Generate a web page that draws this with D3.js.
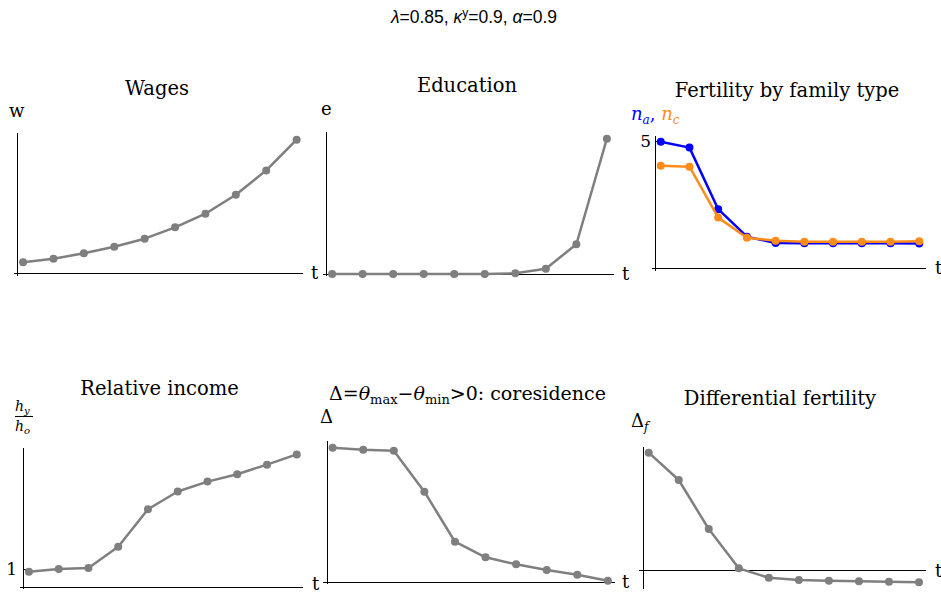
<!DOCTYPE html>
<html>
<head>
<meta charset="utf-8">
<script src="https://cdn.jsdelivr.net/npm/d3@7"></script>
<style>
  html, body { margin: 0; padding: 0; background: #fff; }
  svg { display: block; }
  .header { font-family: "Liberation Sans", Arial, sans-serif; font-size: 17.5px; fill: #000; }
  .title { font-family: "DejaVu Serif", serif; font-size: 19.5px; fill: #000; }
  .label { font-family: "DejaVu Serif", serif; font-size: 18px; fill: #000; }
  .tick text { font-family: "DejaVu Serif", serif; font-size: 17px; fill: #000; }
  .axis path, .axis line { stroke: #000; stroke-width: 1; shape-rendering: crispEdges; }
  .series { fill: none; stroke-width: 2.5; stroke-linejoin: round; }
</style>
</head>
<body>
<svg id="chart" width="941" height="594"></svg>
<script>
// Model periods t on every horizontal axis
const periods = [1, 2, 3, 4, 5, 6, 7, 8, 9, 10];

// Simulated paths
const wages = [1.00, 1.33, 1.82, 2.42, 3.15, 4.18, 5.42, 7.15, 9.36, 12.15];
const education = [0, 0, 0, 0, 0, 0, 0.005, 0.039, 0.22, 1.0];
const fertilityA = [4.97, 4.74, 2.32, 1.24, 0.99, 0.98, 0.98, 0.98, 0.98, 0.97];
const fertilityC = [4.03, 3.99, 1.99, 1.20, 1.08, 1.04, 1.04, 1.04, 1.04, 1.06];
const relativeIncome = [0.992, 1.0, 1.003, 1.063, 1.169, 1.219, 1.247, 1.268, 1.295, 1.324];
const coresidenceGap = [0.950, 0.936, 0.929, 0.639, 0.285, 0.175, 0.125, 0.085, 0.052, 0.009];
const differentialFertility = [1.0, 0.767, 0.349, 0.014, -0.066, -0.085, -0.091, -0.096, -0.100, -0.105];

// Labelled y ticks
const fertilityTicks = [5];
const incomeTicks = [1];

const GRAY = "#7f7f7f";
const BLUE = "#0000ff";
const ORANGE = "#ff8c1a";

const svg = d3.select("#chart");

// Parameter line
const header = svg.append("text").attr("class", "header")
  .attr("x", 474).attr("y", 23).attr("text-anchor", "middle");
header.append("tspan").attr("font-style", "italic").text("λ");
header.append("tspan").text("=0.85, ");
header.append("tspan").attr("font-style", "italic").text("κ");
header.append("tspan").attr("font-size", 12).attr("dy", -6).text("y");
header.append("tspan").attr("dy", 6).text("=0.9, ");
header.append("tspan").attr("font-style", "italic").text("α");
header.append("tspan").text("=0.9");

const panels = [
  { title: "Wages", titleX: 157, titleY: 95,
    series: [{ values: wages, color: GRAY }],
    left: 17, right: 302.7, top: 132, bottom: 275, yDomain: [-0.15, 12.85], cross: 0, ticks: [],
    tX: 311, tY: 279 },
  { title: "Education", titleX: 467, titleY: 92,
    series: [{ values: education, color: GRAY }],
    left: 326, right: 613, top: 131, bottom: 275.5, yDomain: [-0.011, 1.057], cross: 0, ticks: [],
    tX: 622, tY: 280 },
  { title: "Fertility by family type", titleX: 787, titleY: 97,
    series: [{ values: fertilityA, color: BLUE }, { values: fertilityC, color: ORANGE }],
    left: 655, right: 925, top: 135, bottom: 270, yDomain: [-0.067, 5.235], cross: 0, ticks: fertilityTicks, tickPad: 4,
    tX: 935, tY: 274 },
  { title: "Relative income", titleX: 159.5, titleY: 395,
    series: [{ values: relativeIncome, color: GRAY }],
    left: 23, right: 302.7, top: 447.3, bottom: 588, yDomain: [0.9463, 1.344], cross: 0.95, ticks: incomeTicks, tickPad: 6,
    tX: 312, tY: 590 },
  { title: null, titleX: 467.5, titleY: 400,
    series: [{ values: coresidenceGap, color: GRAY }],
    left: 326.5, right: 614, top: 440.7, bottom: 583.5, yDomain: [-0.0106, 1.0], cross: 0, ticks: [],
    tX: 622, tY: 588 },
  { title: "Differential fertility", titleX: 780, titleY: 405,
    series: [{ values: differentialFertility, color: GRAY }],
    left: 642.7, right: 925, top: 446, bottom: 588, yDomain: [-0.1535, 1.057], cross: 0, ticks: [],
    tX: 935, tY: 577 }
];

panels.forEach((p, i) => {
  const g = svg.append("g").attr("class", "panel panel-" + i);
  const x = d3.scaleLinear().domain([0.8, 10.2]).range([p.left, p.right]);
  const y = d3.scaleLinear().domain(p.yDomain).range([p.bottom, p.top]);
  const yc = y(p.cross);

  // horizontal axis, crossing slightly left of the vertical axis
  const xAxisScale = d3.scaleLinear().domain([x.invert(p.left - 4), 10.2]).range([p.left - 4, p.right]);
  g.append("g").attr("class", "axis")
    .attr("transform", `translate(0,${yc})`)
    .call(d3.axisBottom(xAxisScale).tickValues([]).tickSizeOuter(0));

  // vertical axis with inward ticks
  g.append("g").attr("class", "axis")
    .attr("transform", `translate(${p.left},0)`)
    .call(d3.axisLeft(y).tickValues(p.ticks).tickSizeInner(-3).tickSizeOuter(0)
      .tickPadding(p.tickPad || 4).tickFormat(d3.format("d")));

  // t label at the end of the horizontal axis
  g.append("text").attr("class", "label").attr("x", p.tX).attr("y", p.tY).text("t");

  if (p.title) {
    g.append("text").attr("class", "title").attr("x", p.titleX).attr("y", p.titleY)
      .attr("text-anchor", "middle").text(p.title);
  }

  const line = d3.line().x((d, k) => x(periods[k])).y(d => y(d));
  p.series.forEach(s => {
    g.append("path").attr("class", "series").attr("stroke", s.color).attr("d", line(s.values));
    g.selectAll(null).data(s.values).enter().append("circle")
      .attr("cx", (d, k) => x(periods[k])).attr("cy", d => y(d)).attr("r", 4)
      .attr("fill", s.color);
  });
});

// Axis variable labels
svg.append("text").attr("class", "label").attr("x", 9).attr("y", 117).text("w");
svg.append("text").attr("class", "label").attr("x", 321).attr("y", 115).text("e");

const nl = svg.append("text").attr("class", "label").attr("x", 631).attr("y", 120);
nl.append("tspan").attr("fill", BLUE).attr("font-style", "italic").text("n");
nl.append("tspan").attr("fill", BLUE).attr("font-style", "italic").attr("font-size", 12).attr("dy", 4).text("a");
nl.append("tspan").attr("fill", BLUE).attr("dy", -4).text(", ");
nl.append("tspan").attr("fill", ORANGE).attr("font-style", "italic").text("n");
nl.append("tspan").attr("fill", ORANGE).attr("font-style", "italic").attr("font-size", 12).attr("dy", 4).text("c");

// h_y / h_o fraction
const frac = svg.append("g").attr("class", "label").style("font-style", "italic").style("font-size", "14px");
const hy = frac.append("text").attr("x", 15).attr("y", 411);
hy.append("tspan").text("h");
hy.append("tspan").attr("font-size", 10).attr("dy", 3).text("y");
frac.append("line").attr("x1", 15).attr("x2", 33).attr("y1", 416.5).attr("y2", 416.5)
  .attr("stroke", "#000").attr("stroke-width", 1);
const ho = frac.append("text").attr("x", 15).attr("y", 431);
ho.append("tspan").text("h");
ho.append("tspan").attr("font-size", 10).attr("dy", 3).text("o");

// Coresidence title
const ct = svg.append("text").attr("class", "title").style("font-size", "19px")
  .attr("x", 467.5).attr("y", 400).attr("text-anchor", "middle");
ct.append("tspan").text("Δ=");
ct.append("tspan").attr("font-style", "italic").text("θ");
ct.append("tspan").attr("font-size", 13).attr("dy", 4).text("max");
ct.append("tspan").attr("dy", -4).text("−");
ct.append("tspan").attr("font-style", "italic").text("θ");
ct.append("tspan").attr("font-size", 13).attr("dy", 4).text("min");
ct.append("tspan").attr("dy", -4).text(">0: coresidence");

svg.append("text").attr("class", "label").attr("x", 320).attr("y", 423).text("Δ");
const df = svg.append("text").attr("class", "label").attr("x", 631).attr("y", 427);
df.append("tspan").text("Δ");
df.append("tspan").attr("font-style", "italic").attr("font-size", 12).attr("dy", 4).text("f");
</script>
</body>
</html>
